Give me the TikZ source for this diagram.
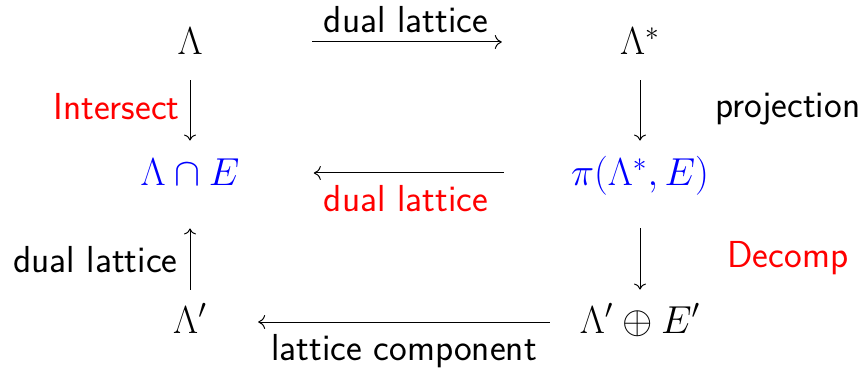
\documentclass[tikz,border=0pt]{standalone}
\usepackage{fix-cm}
\usetikzlibrary{arrows.meta}
\definecolor{lblue}{RGB}{0,0,255}
\definecolor{lred}{RGB}{255,0,0}
\begin{document}
\begin{tikzpicture}[x=0.5pt,y=-0.5pt,
  obj/.style={inner sep=0pt, text height=14pt, text depth=5pt, anchor=base,
    font=\fontsize{19.5}{23}\selectfont},
  lab/.style={inner sep=0pt, font=\fontsize{18.8}{22}\selectfont\sffamily},
  arr/.style={line width=0.5pt, -{To[length=3pt,width=6pt]}},
  harr/.style={line width=0.5pt, -{To[length=3.5pt,width=7pt]}},
]
\useasboundingbox (0,0) rectangle (865,368);
% objects
\node[obj] (L)   at (190,55)  {$\Lambda$};
\node[obj] (Ls)  at (640,55)  {$\Lambda^*$};
\node[obj,text=lblue] (LE)  at (190,186) {$\Lambda\cap E$};
\node[obj,text=lblue] (PE)  at (640,186) {$\pi(\Lambda^*,E)$};
\node[obj] (Lp)  at (190,333) {$\Lambda'$};
\node[obj] (LpE) at (640,333) {$\Lambda'\oplus E'$};
% horizontal arrows
\draw[harr, shorten <=54.75pt, shorten >=59pt] ([yshift=2pt]L.east) -- ([yshift=2pt]Ls.west);
\draw[harr, shorten <=33.5pt, shorten >=37pt] ([yshift=2pt]PE.west) -- ([yshift=2pt]LE.east);
\draw[harr, shorten <=14.75pt, shorten >=25.5pt] ([yshift=1pt]LpE.west) -- ([yshift=1pt]Lp.east);
% vertical arrows
\draw[arr, shorten <=7.5pt, shorten >=8.5pt] (L) -- (LE);
\draw[arr, shorten <=7.5pt, shorten >=8.5pt] (Ls) -- (PE);
\draw[arr, shorten <=7.5pt, shorten >=16pt] (Lp) -- (LE);
\draw[arr, shorten <=16pt, shorten >=7.5pt] (PE) -- (LpE);
% labels
\node[lab, anchor=base] (t1) at (406,33) {dual lattice};
\node[lab, anchor=base, text=lred] (t2) at (406,212) {dual lattice};
\node[lab, anchor=base] (t3) at (404,360) {lattice component};
\node[lab, anchor=base east, text=lred] (t4) at (180,120) {Intersect};
\node[lab, anchor=base west] (t5) at (715,118) {projection};
\node[lab, anchor=base east] (t6) at (178,272) {dual lattice};
\node[lab, anchor=base west, text=lred] (t7) at (727,268) {Decomp};
\end{tikzpicture}
\end{document}
